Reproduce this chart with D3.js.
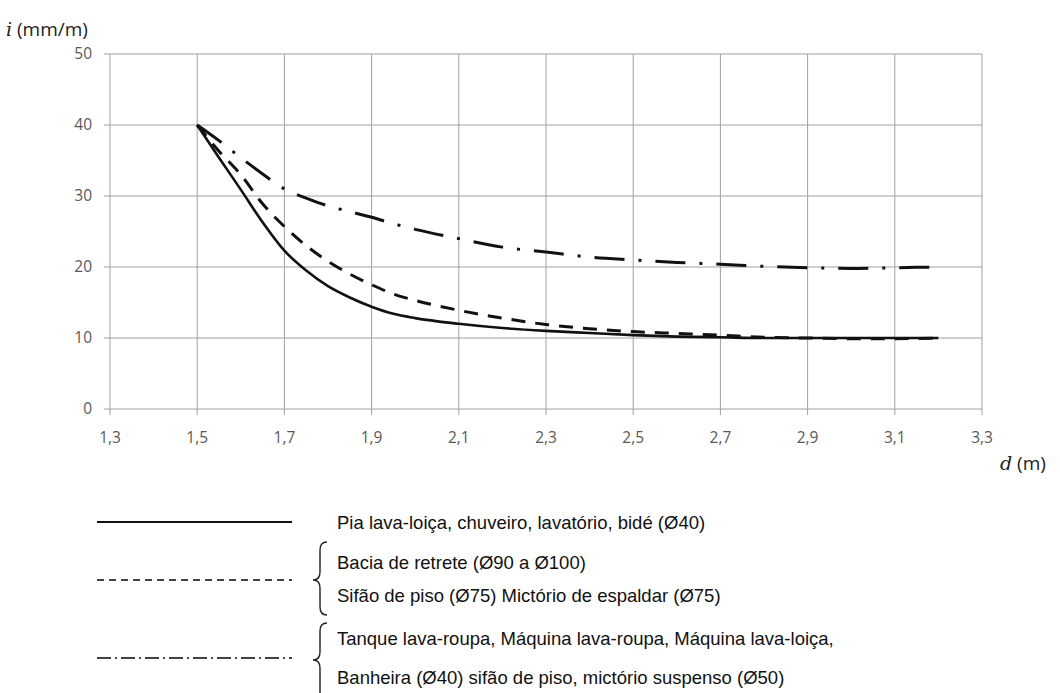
<!DOCTYPE html>
<html>
<head>
<meta charset="utf-8">
<script src="https://cdn.jsdelivr.net/npm/d3@7/dist/d3.min.js"></script>
<style>
  body { margin: 0; background: #fff; }
  svg { display: block; }
</style>
</head>
<body>
<div id="chart-area"></div>
<script>
// diâmetro d (m) e declividade i (mm/m)
var dValues = [1.5, 1.55, 1.6, 1.65, 1.7, 1.75, 1.8, 1.85, 1.9, 1.95, 2.0, 2.1, 2.2, 2.3, 2.4, 2.5, 2.6, 2.7, 2.8, 2.9, 3.0, 3.1, 3.2];
var iSolid   = [40, 35.4, 30.9, 26.3, 22.3, 19.5, 17.3, 15.7, 14.4, 13.4, 12.8, 12.0, 11.4, 11.0, 10.7, 10.4, 10.2, 10.1, 10.0, 10.0, 10.0, 10.0, 10.0];
var iDashed  = [40, 36.3, 33, 28.9, 25.7, 23.0, 20.8, 19.0, 17.5, 16.2, 15.3, 13.9, 12.8, 11.9, 11.3, 10.9, 10.65, 10.4, 10.1, 10.0, 9.9, 9.9, 10.0];
var iDashDot = [40, 37.8, 35.4, 33.1, 31.0, 29.7, 28.6, 27.8, 27.0, 26.1, 25.3, 24.0, 22.8, 22.1, 21.4, 21.0, 20.65, 20.4, 20.1, 19.9, 19.8, 19.9, 20.0];

var xTicks = [1.3, 1.5, 1.7, 1.9, 2.1, 2.3, 2.5, 2.7, 2.9, 3.1, 3.3];
var yTicks = [0, 10, 20, 30, 40, 50];

var legendLabels = [
    ["Pia lava-loiça, chuveiro, lavatório, bidé (Ø40)"],
    ["Bacia de retrete (Ø90 a Ø100)", "Sifão de piso (Ø75) Mictório de espaldar (Ø75)"],
    ["Tanque lava-roupa, Máquina lava-roupa, Máquina lava-loiça,", "Banheira (Ø40) sifão de piso, mictório suspenso (Ø50)"]
];

var width = 1060, height = 693;

var svg = d3.select("#chart-area").append("svg")
    .attr("width", width)
    .attr("height", height);

var x = d3.scaleLinear().domain([1.3, 3.3]).range([110, 982]);
var y = d3.scaleLinear().domain([0, 50]).range([409, 54]);

var fmt = (v) => d3.format(".1f")(v).replace(".", ",");

// grid
svg.append("g")
    .selectAll("line")
    .data(xTicks)
    .enter().append("line")
    .attr("x1", (d) => x(d)).attr("x2", (d) => x(d))
    .attr("y1", y(50)).attr("y2", y(0) + 6)
    .attr("stroke", "#a0a0a0").attr("stroke-width", 1);

svg.append("g")
    .selectAll("line")
    .data(yTicks)
    .enter().append("line")
    .attr("x1", x(1.3) - 6).attr("x2", x(3.3))
    .attr("y1", (d) => y(d)).attr("y2", (d) => y(d))
    .attr("stroke", "#a0a0a0").attr("stroke-width", 1);

// tick labels
svg.append("g")
    .selectAll("text")
    .data(xTicks)
    .enter().append("text")
    .attr("x", (d) => x(d))
    .attr("y", y(0) + 34)
    .attr("text-anchor", "middle")
    .attr("font-family", "Open Sans, sans-serif")
    .attr("font-size", 15.5)
    .attr("fill", "#595959")
    .text(fmt);

svg.append("g")
    .selectAll("text")
    .data(yTicks)
    .enter().append("text")
    .attr("x", 92)
    .attr("y", (d) => y(d) + 5)
    .attr("text-anchor", "end")
    .attr("font-family", "Open Sans, sans-serif")
    .attr("font-size", 15.5)
    .attr("fill", "#595959")
    .text((d) => d);

// axis titles
var yTitle = svg.append("text")
    .attr("x", 6).attr("y", 36)
    .attr("font-family", "Open Sans, sans-serif")
    .attr("font-size", 19)
    .attr("fill", "#222");
yTitle.append("tspan").attr("font-family", "DejaVu Serif, serif").attr("font-style", "italic").text("i");
yTitle.append("tspan").text(" (mm/m)");

var xTitle = svg.append("text")
    .attr("x", 1000).attr("y", 470)
    .attr("font-family", "Open Sans, sans-serif")
    .attr("font-size", 19)
    .attr("fill", "#222");
xTitle.append("tspan").attr("font-family", "DejaVu Serif, serif").attr("font-style", "italic").text("d");
xTitle.append("tspan").text(" (m)");

// curves
var series = [
    { values: iSolid, width: 2.6, dash: null },
    { values: iDashed, width: 3, dash: "14,10" },
    { values: iDashDot, width: 3, dash: "30,14,3,14" }
];

var line = d3.line()
    .x((d) => x(d[0]))
    .y((d) => y(d[1]))
    .curve(d3.curveMonotoneX);

svg.append("g")
    .selectAll("path")
    .data(series)
    .enter().append("path")
    .attr("d", (s) => line(dValues.map((d, k) => [d, s.values[k]])))
    .attr("fill", "none")
    .attr("stroke", "#111")
    .attr("stroke-width", (s) => s.width)
    .attr("stroke-dasharray", (s) => s.dash);

// legend
var legend = svg.append("g")
    .attr("font-family", "Liberation Sans, Arial, sans-serif")
    .attr("font-size", 18.5)
    .attr("fill", "#111");

var legendRows = [
    { lineY: 522, textY: [522], dash: null, brace: null },
    { lineY: 580, textY: [562, 595], dash: "7,5", brace: [542, 580, 615] },
    { lineY: 658, textY: [638, 677], dash: "14,4,2,4", brace: [623, 660, 700] }
];

legendRows.forEach((r, k) => {
    legend.append("line")
        .attr("x1", 97).attr("x2", 292)
        .attr("y1", r.lineY).attr("y2", r.lineY)
        .attr("stroke", k === 0 ? "#111" : "#444")
        .attr("stroke-width", 1.8)
        .attr("stroke-dasharray", r.dash);

    r.textY.forEach((ty, j) => {
        legend.append("text")
            .attr("x", 337)
            .attr("y", ty + 7)
            .text(legendLabels[k][j]);
    });

    if (r.brace) {
        var y1 = r.brace[0], ym = r.brace[1], y2 = r.brace[2];
        var xl = 313, xm = 320, xr = 327;
        legend.append("path")
            .attr("d", "M" + xr + "," + y1 +
                " Q" + xm + "," + y1 + " " + xm + "," + (y1 + 8) +
                " L" + xm + "," + (ym - 8) +
                " Q" + xm + "," + ym + " " + xl + "," + ym +
                " Q" + xm + "," + ym + " " + xm + "," + (ym + 8) +
                " L" + xm + "," + (y2 - 8) +
                " Q" + xm + "," + y2 + " " + xr + "," + y2)
            .attr("fill", "none")
            .attr("stroke", "#222")
            .attr("stroke-width", 1.4);
    }
});
</script>
</body>
</html>
